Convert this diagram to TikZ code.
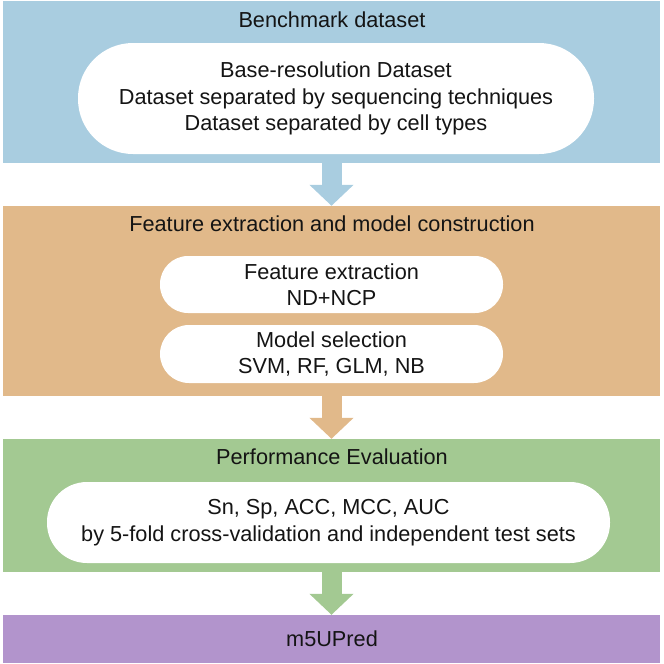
\documentclass[tikz,border=0pt]{standalone}
\usepackage{fontspec}
\setmainfont{Liberation Sans}
\usetikzlibrary{arrows.meta}
\definecolor{cblue}{RGB}{169,205,224}
\definecolor{corange}{RGB}{225,185,138}
\definecolor{cgreen}{RGB}{163,201,146}
\definecolor{cpurple}{RGB}{178,148,204}
\definecolor{ctext}{RGB}{20,20,20}
\tikzset{
  band/.style={rectangle, draw=none, minimum width=657pt, inner sep=0pt},
  pill/.style={rectangle, fill=white, draw=none, align=center, inner sep=0pt, text=ctext},
  ttl/.style={anchor=base, inner sep=0pt, text=ctext},
  flow/.style={line width=20pt, -{Triangle[length=21pt,width=43pt]}},
}
\begin{document}
\begin{tikzpicture}[x=1pt,y=-1pt,font=\fontsize{21.7}{26.5}\selectfont]
\useasboundingbox (0,0) rectangle (664,664);
% bands
\node[band, fill=cblue, minimum height=162pt] (blue) at (331.5,82) {};
\node[band, fill=corange, minimum height=190pt] (orange) at (331.5,301) {};
\node[band, fill=cgreen, minimum height=133pt] (green) at (331.5,505.5) {};
\node[band, fill=cpurple, minimum height=48pt] (purple) at (331.5,639) {};
% titles
\node[ttl] (t1) at (332,27) {Benchmark dataset};
\node[ttl] (t2) at (332,231) {Feature extraction and model construction};
\node[ttl] (t3) at (332,464) {Performance Evaluation};
\node[ttl] (t4) at (332,646) {m5UPred};
% pills
\node[pill, minimum width=516pt, minimum height=111pt, rounded corners=55pt] (p1) at (336,98.5)
  {Base-resolution Dataset\\Dataset separated by sequencing techniques\\Dataset separated by cell types};
\node[pill, minimum width=343pt, minimum height=57pt, rounded corners=28pt] (p2) at (331.5,284.5)
  {Feature extraction\\ND+NCP};
\node[pill, minimum width=343pt, minimum height=58pt, rounded corners=29pt] (p3) at (331.5,354)
  {Model selection\\SVM, RF, GLM, NB};
\node[pill, minimum width=563pt, minimum height=81pt, rounded corners=40pt] (p4) at (328.5,522.5)
  {Sn, Sp, ACC, MCC, AUC\\by 5-fold cross-validation and independent test sets};
% arrows
\draw[flow, cblue] (blue.south) -- (orange.north);
\draw[flow, corange] (orange.south) -- (green.north);
\draw[flow, cgreen] (green.south) -- (purple.north);
\end{tikzpicture}
\end{document}
